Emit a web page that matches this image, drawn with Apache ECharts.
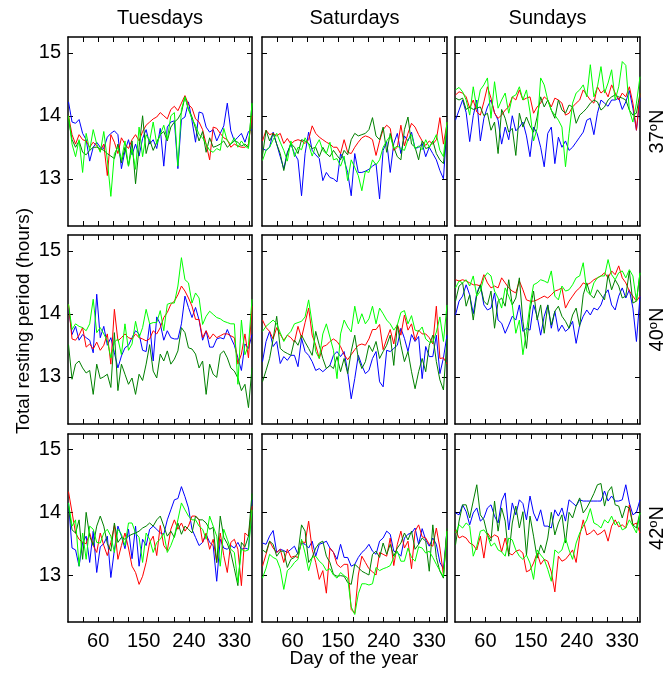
<!DOCTYPE html>
<html>
<head>
<meta charset="utf-8">
<script src="https://cdn.jsdelivr.net/npm/echarts@6/dist/echarts.min.js"></script>
<style>
html,body{margin:0;padding:0;background:#fff;}
#chart{width:670px;height:673px;}
</style>
</head>
<body>
<div id="chart"></div>
<script>
// ---------- data ----------
const days = [1,8,15,22,29,36,43,50,57,64,71,78,85,92,99,106,113,120,127,134,141,148,155,162,169,176,183,190,197,204,211,218,225,232,239,246,253,260,267,274,281,288,295,302,309,316,323,330,337,344,351,358,365];
const columnTitles = ['Tuesdays','Saturdays','Sundays'];
const latitudes = ['37','40','42'];
const xTickValues = [30,60,90,120,150,180,210,240,270,300,330,360];
const xLabelValues = [60,150,240,330];
const yTickValues = [13,14,15];
const seriesNames = ['blue','red','darkgreen','lightgreen'];

// 37N Tuesdays
const tue37Blue = [14.22,13.9,13.88,13.94,13.72,13.62,13.28,13.5,13.58,13.5,13.48,13.66,13.72,13.76,13.7,13.16,13.44,13.62,13.38,13.55,13.36,13.64,13.78,13.55,13.62,13.48,13.8,13.2,13.82,13.9,13.92,13.16,13.94,13.98,14.22,13.92,13.58,14.06,14.04,13.82,13.74,13.78,13.6,13.72,13.84,14.2,13.76,13.6,13.66,13.72,13.58,13.75,13.78];
const tue37Red = [14.0,13.7,13.55,13.7,13.62,13.6,13.5,13.58,13.52,13.45,13.55,13.05,13.7,13.58,13.4,13.65,13.55,13.48,13.62,13.7,13.6,13.75,13.85,13.9,13.95,13.98,14.05,14.0,13.95,14.1,14.15,14.08,14.2,14.32,14.18,14.12,13.95,13.9,13.78,13.55,13.3,13.82,13.8,13.72,13.65,13.62,13.5,13.55,13.52,13.5,13.5,13.55,14.0];
const tue37Light = [14.0,13.55,13.35,13.62,13.1,13.72,13.45,13.78,13.55,13.42,13.75,13.3,12.72,13.4,13.5,13.3,13.6,13.2,13.48,13.15,13.82,13.35,13.7,13.6,13.9,13.55,13.7,13.85,13.62,14.0,14.05,13.2,14.1,14.3,14.1,13.95,13.85,13.7,13.65,13.55,13.45,13.42,13.48,13.45,13.8,13.6,13.55,13.65,13.5,13.6,13.52,13.48,14.2];
const tue37Dark = [13.95,13.62,13.5,13.6,13.42,13.38,13.45,13.5,13.5,13.48,13.45,13.4,13.36,13.32,13.55,13.25,13.5,13.2,13.6,12.92,13.5,14.0,13.4,13.62,13.45,13.58,13.7,13.75,13.6,13.82,13.9,13.95,14.05,14.3,14.1,13.98,13.8,13.6,13.75,13.42,13.65,13.5,13.52,13.55,13.6,13.5,13.55,13.6,13.58,13.52,13.55,13.5,14.2];
// 37N Saturdays
const sat37Blue = [13.48,13.45,13.5,13.74,13.55,13.35,13.16,13.42,13.55,13.4,13.3,12.73,13.4,13.74,13.45,13.38,13.32,12.97,13.1,13.02,13.0,12.95,13.4,13.3,13.1,12.73,13.4,13.1,13.1,13.12,13.15,13.2,13.24,12.68,13.45,13.59,13.1,13.56,13.72,13.4,13.68,13.6,13.74,13.48,13.5,13.56,13.35,13.5,13.4,13.3,13.13,13.0,13.85];
const sat37Red = [13.6,13.77,13.7,13.72,13.68,13.72,13.56,13.64,13.55,13.6,13.62,13.6,13.56,13.62,13.84,13.72,13.66,13.62,13.58,13.55,13.5,13.5,13.4,13.62,13.42,13.4,13.5,13.58,13.65,13.68,13.66,13.62,13.37,13.6,13.78,13.85,13.8,13.45,13.5,13.85,13.52,13.72,13.88,13.82,13.7,13.6,13.53,13.6,13.55,13.62,13.97,13.55,13.88];
const sat37Light = [13.29,13.45,13.5,13.62,13.72,13.58,13.45,13.28,13.6,13.35,13.5,13.46,13.65,13.55,13.36,13.52,13.62,13.45,13.4,13.58,13.3,13.32,13.2,13.36,12.97,13.3,13.18,13.05,12.81,13.12,13.1,13.3,13.22,13.3,13.5,13.6,13.68,13.48,13.52,13.48,13.45,13.62,13.7,13.48,13.52,13.46,13.62,13.5,13.58,13.7,13.45,13.35,13.9];
const sat37Dark = [13.37,13.77,13.6,13.72,13.55,13.4,13.13,13.4,13.56,13.5,13.4,13.62,13.6,13.56,13.48,13.5,13.35,13.5,13.4,13.35,13.45,13.37,13.3,13.45,13.38,13.62,13.72,13.68,13.7,13.72,13.78,13.97,13.68,13.62,13.82,13.42,13.72,13.5,13.35,13.3,13.78,13.98,13.55,13.5,13.3,13.6,13.48,13.5,13.6,13.4,13.3,13.24,13.82];
// 37N Sundays
const sun37Blue = [13.93,14.09,14.25,14.05,13.59,14.0,14.25,13.6,13.96,14.14,14.25,14.05,13.93,13.55,13.82,13.62,14.0,13.76,13.82,13.9,13.68,13.35,13.82,13.72,13.5,13.19,13.72,13.82,13.24,13.66,13.5,13.6,13.45,13.5,13.58,13.66,13.74,13.93,13.96,13.7,14.04,14.25,14.2,14.15,14.25,14.25,14.28,14.1,14.22,14.4,14.12,13.77,14.28];
const sun37Red = [14.33,14.38,14.36,14.3,14.12,14.25,14.06,14.01,14.22,14.46,14.28,14.04,13.96,14.01,14.09,14.14,14.3,14.25,14.41,14.25,14.28,14.3,14.04,14.14,14.2,14.3,14.25,14.14,14.28,14.25,14.2,14.01,14.04,14.14,14.2,14.25,14.41,14.33,14.25,14.2,14.46,14.36,14.41,14.3,14.49,14.36,14.25,14.36,14.3,14.46,14.2,13.77,14.36];
const sun37Light = [14.41,14.45,14.38,14.25,14.01,14.46,14.12,14.41,14.49,14.6,13.96,14.54,14.12,14.25,14.36,14.04,14.3,14.33,14.46,14.25,14.41,14.06,13.6,13.8,14.6,14.49,14.25,14.09,14.01,13.93,13.82,13.19,13.72,14.2,14.36,14.41,14.49,14.3,14.81,14.3,14.46,14.78,14.36,14.52,14.73,14.25,14.46,14.86,14.8,14.09,13.9,14.2,14.62];
const sun37Dark = [14.28,14.25,14.28,14.1,14.14,14.1,14.12,14.14,14.0,14.04,13.77,13.9,13.4,14.1,13.96,13.74,13.8,13.37,14.04,13.82,13.98,13.84,13.74,13.98,14.3,14.14,14.25,14.09,13.96,14.25,14.09,14.04,14.17,14.14,13.88,14.01,14.06,14.12,14.2,14.25,14.22,14.09,14.14,14.25,14.3,14.33,14.3,14.28,14.25,14.09,14.01,14.04,14.36];
// 40N Tuesdays
const tue40Blue = [14.1,13.67,13.8,13.58,13.67,13.62,13.58,13.38,14.31,13.62,13.8,13.5,13.62,13.38,13.14,13.33,13.46,13.5,13.62,13.73,13.68,13.42,13.4,13.84,13.25,13.95,13.84,13.58,13.73,13.62,13.6,13.6,13.84,14.28,14.1,13.94,14.1,13.9,13.58,13.73,13.47,13.47,13.6,13.62,13.6,13.75,13.62,13.5,13.3,13.1,13.52,13.45,13.67];
const tue40Red = [14.15,13.6,13.58,13.66,13.78,13.47,13.52,13.44,13.55,13.42,13.5,13.68,13.2,14.07,13.57,13.62,13.68,13.62,13.6,13.68,13.62,13.6,13.57,13.6,13.73,13.68,13.78,13.94,14.02,14.15,14.2,14.3,14.44,14.36,14.25,14.12,13.91,13.91,13.62,13.73,13.6,13.68,13.62,13.65,13.68,13.68,13.65,13.62,13.2,13.36,13.68,13.3,14.12];
const tue40Light = [14.15,13.75,13.84,13.8,13.78,13.73,13.84,14.23,13.7,13.78,13.68,13.57,13.3,13.55,13.6,13.35,13.84,13.42,13.52,13.88,13.62,13.78,14.07,13.84,13.86,13.86,14.05,13.73,14.15,14.17,14.17,14.44,14.89,14.54,14.49,14.17,14.33,14.25,13.83,13.96,14.04,13.99,13.94,13.92,13.88,13.86,13.84,13.84,12.88,13.9,13.35,13.5,14.23];
const tue40Dark = [13.51,12.96,13.2,13.25,13.14,13.06,13.1,12.72,13.2,12.97,13.0,13.04,12.83,13.7,12.78,13.2,13.04,12.88,12.98,12.72,13.04,12.94,13.2,13.51,13.09,12.98,13.36,13.25,13.41,13.2,13.28,13.41,13.78,13.7,13.46,13.44,13.36,13.14,13.25,12.72,13.2,13.04,12.99,13.36,13.41,13.3,13.14,13.09,12.98,12.78,12.88,12.51,13.14];
// 40N Saturdays
const sat40Blue = [13.24,13.56,13.72,13.48,13.56,13.21,13.32,13.26,13.34,13.34,13.16,13.61,13.4,13.34,13.24,13.1,13.13,13.08,13.13,13.18,13.34,13.4,13.32,13.4,13.08,12.65,12.97,13.34,13.18,13.05,13.1,13.29,13.4,12.92,12.84,13.42,13.4,13.45,13.5,13.77,13.61,13.4,13.67,13.56,13.64,12.97,13.48,13.32,13.32,13.66,13.05,13.3,13.66];
const sat40Red = [13.9,13.78,13.72,13.6,13.78,13.67,13.58,13.66,13.62,13.55,13.8,13.62,13.86,14.09,13.66,13.5,13.29,13.48,13.5,13.56,13.6,13.56,13.48,13.35,13.27,13.35,13.43,13.5,13.52,13.5,13.6,13.75,13.75,13.83,13.43,13.6,13.75,13.52,13.83,13.66,13.98,13.74,13.84,13.58,13.74,13.68,13.68,13.62,13.52,14.12,13.29,13.3,13.2];
const sat40Light = [13.72,13.8,13.85,13.9,13.84,13.7,13.56,13.66,13.72,13.84,13.86,13.88,13.95,14.22,13.84,13.4,13.29,13.68,13.84,13.63,13.42,12.97,13.68,13.9,13.79,13.71,14.12,13.84,14.0,13.84,13.92,14.12,13.84,14.09,14.0,13.9,13.84,13.74,13.82,14.02,14.05,13.84,13.97,13.74,13.72,13.79,13.6,13.55,13.55,13.71,13.95,13.56,14.14];
const sat40Dark = [12.92,13.1,13.29,13.6,13.96,13.45,13.4,13.37,13.34,13.58,13.5,13.66,13.55,13.45,13.34,13.72,13.5,13.29,13.13,13.18,13.13,13.32,13.08,13.29,13.05,13.4,13.66,13.29,13.13,13.24,13.5,13.4,13.56,13.29,13.4,13.5,13.66,13.18,13.82,13.5,13.24,13.4,13.08,12.81,13.08,13.29,13.08,13.5,13.66,13.24,12.95,12.79,13.6];
// 40N Sundays
const sun40Blue = [13.98,14.2,14.28,14.46,14.3,14.0,14.33,14.46,14.14,14.06,14.09,14.33,13.9,13.85,13.69,13.82,13.96,13.9,14.14,13.72,13.77,13.74,14.14,13.96,13.66,13.96,14.14,13.77,14.04,13.72,13.82,13.72,13.77,13.88,13.53,13.82,13.96,14.06,13.98,14.09,14.06,14.14,14.3,14.38,14.14,14.06,14.28,14.41,14.25,14.38,14.09,13.56,14.28];
const sun40Red = [14.54,14.52,14.54,14.52,14.49,14.46,14.46,14.44,14.62,14.49,14.41,14.44,14.41,14.57,14.49,14.41,14.36,14.33,14.52,14.38,14.22,14.2,14.2,14.22,14.25,14.28,14.25,14.3,14.36,14.38,14.41,14.09,14.2,14.28,14.36,14.41,14.49,14.46,14.49,14.54,14.57,14.6,14.65,14.57,14.68,14.62,14.76,14.57,14.49,14.36,14.28,14.2,14.28];
const sun40Light = [14.41,14.52,14.49,14.54,14.44,14.6,14.28,14.36,14.57,14.65,14.6,14.36,14.25,14.09,14.41,14.28,14.14,13.69,13.9,13.35,13.72,14.14,14.46,14.49,14.54,14.52,14.49,14.68,14.28,14.22,14.44,14.36,14.38,14.46,14.57,14.6,14.81,14.36,14.3,14.49,14.57,14.6,14.6,14.86,14.62,14.54,14.65,14.68,14.57,14.7,14.6,14.2,14.65];
const sun40Dark = [14.2,14.44,14.49,14.12,14.3,13.9,14.3,14.46,14.2,14.14,14.36,13.77,14.2,14.25,14.12,14.54,14.14,14.25,14.57,13.88,13.45,14.06,14.36,13.9,14.14,13.69,14.14,13.82,14.04,14.12,13.96,13.88,13.77,13.98,14.09,13.8,14.3,14.49,14.3,14.25,14.38,14.3,14.22,14.62,14.38,14.54,14.44,14.25,14.28,14.68,14.17,14.2,14.65];
// 42N Tuesdays
const tue42Blue = [14.15,13.43,13.4,13.14,13.52,13.62,13.2,13.7,13.04,13.45,13.5,13.62,12.96,13.4,13.78,13.62,13.42,13.73,13.26,13.78,13.14,13.57,13.47,13.73,13.78,13.73,13.67,13.65,13.88,14.04,14.2,14.22,14.41,14.25,14.07,13.73,13.6,13.47,13.52,13.65,13.52,13.47,12.9,13.57,13.43,13.41,13.47,13.43,13.52,13.41,13.43,13.41,14.2];
const tue42Red = [14.33,14.0,13.67,13.57,13.52,13.5,13.67,13.47,13.36,13.67,13.47,13.31,13.52,13.79,13.25,13.47,13.67,13.43,13.14,13.04,12.85,12.98,13.2,13.52,13.62,13.31,13.79,13.47,13.39,13.73,13.88,13.73,13.83,13.7,13.78,13.94,13.94,13.88,13.52,13.67,13.41,13.57,13.2,13.67,13.31,13.04,13.52,13.57,13.41,12.83,13.67,13.62,14.1];
const tue42Light = [14.15,13.78,13.88,13.14,13.67,13.25,13.78,13.73,13.52,13.51,13.67,13.73,13.62,13.36,13.73,13.65,13.47,13.83,13.83,13.67,13.6,13.2,13.67,13.57,13.36,13.52,13.57,13.67,13.36,13.47,13.62,13.88,14.15,14.04,13.94,13.88,13.88,13.78,13.73,13.57,13.94,13.78,13.62,13.14,13.73,13.57,13.41,13.36,12.88,13.41,13.38,13.4,14.04];
const tue42Dark = [14.1,13.72,13.67,13.88,13.25,14.0,13.62,13.47,13.78,13.94,13.78,13.5,13.38,13.83,13.52,13.6,13.57,13.62,13.65,13.67,13.7,13.75,13.78,13.83,13.78,13.88,13.94,13.78,13.62,13.7,13.6,13.83,13.65,13.78,13.73,13.67,13.94,13.88,13.88,13.83,13.73,13.76,13.2,13.94,13.6,13.5,13.35,13.1,12.83,13.52,13.45,13.62,14.3];
// 42N Saturdays
const sat42Blue = [13.51,13.49,13.62,13.71,13.36,13.41,13.39,13.36,13.41,13.46,13.33,13.51,13.49,13.43,13.54,13.3,13.49,13.51,13.54,13.43,13.36,13.25,13.49,13.28,13.28,13.14,13.17,13.28,13.36,13.41,13.49,13.38,13.33,13.54,13.59,13.7,13.65,13.38,13.36,13.3,13.59,13.65,13.67,13.75,13.49,13.74,13.56,13.46,13.59,13.49,13.2,13.1,13.72];
const sat42Red = [13.14,13.33,13.54,13.43,13.36,13.41,13.2,13.41,13.28,13.3,13.28,13.54,13.51,13.86,13.41,13.2,12.93,13.07,12.71,13.43,13.36,13.17,13.12,13.17,13.17,12.45,12.39,13.0,13.3,13.2,13.1,13.05,13.0,13.36,13.33,13.3,13.59,13.15,13.49,13.7,13.43,13.54,13.1,13.7,13.8,13.61,13.59,13.49,13.46,13.75,13.43,13.0,13.72];
const sat42Light = [12.95,13.11,13.33,13.28,13.25,13.1,12.77,13.07,13.12,13.2,13.25,13.57,13.35,13.07,13.28,13.3,13.22,13.17,13.07,13.1,13.0,12.95,13.04,12.99,12.95,12.49,12.37,12.7,12.86,12.86,12.84,12.86,13.12,13.07,13.1,13.12,13.15,13.28,13.38,13.22,13.22,13.43,13.28,13.22,13.45,13.43,13.35,13.38,13.28,13.17,13.07,12.97,13.7];
const sat42Dark = [13.4,13.36,13.54,13.49,13.3,13.38,13.38,13.12,13.25,13.28,13.35,13.8,13.7,13.2,13.28,13.43,13.51,13.54,13.3,13.2,13.01,12.98,12.99,12.98,12.88,12.85,13.17,13.12,13.06,13.03,13.0,13.33,13.38,13.28,13.51,13.33,13.49,13.3,13.43,13.51,13.67,13.56,13.7,13.41,13.49,13.59,13.54,13.06,13.8,13.28,13.06,12.95,13.74];
// 42N Sundays
const sun42Blue = [13.99,13.96,14.12,14.01,13.8,13.99,14.07,13.86,13.91,14.07,14.12,13.94,13.83,14.18,14.31,13.72,14.15,13.96,14.2,14.14,13.88,14.26,13.99,13.86,14.04,13.78,13.78,13.75,14.04,13.94,14.07,13.86,14.2,14.15,14.1,14.2,14.18,14.18,14.18,14.18,14.18,14.18,14.34,14.18,14.26,14.18,14.18,14.2,14.44,14.15,13.96,14.0,14.2];
const sun42Red = [13.72,13.59,13.62,13.59,13.51,13.48,13.4,13.62,13.27,13.67,13.59,13.64,13.61,13.37,13.59,13.35,13.32,13.38,13.4,13.35,13.05,13.08,13.19,13.35,13.17,13.25,13.22,13.05,12.73,13.3,13.22,13.25,13.32,13.4,13.2,13.62,13.88,13.64,13.67,13.72,13.64,13.67,13.72,13.54,13.78,13.88,13.77,13.8,13.75,14.12,13.8,13.83,13.67];
const sun42Light = [13.67,13.8,13.75,13.83,13.78,13.3,13.46,13.7,13.72,13.64,13.46,13.51,13.4,13.37,13.3,13.59,13.56,13.4,13.3,13.25,13.32,13.19,12.93,13.4,13.32,13.25,13.09,12.9,13.4,13.35,13.4,13.59,13.4,13.25,13.51,13.67,13.78,13.88,14.06,13.83,13.8,13.75,13.88,13.83,13.94,13.8,13.85,13.72,13.75,13.88,13.78,13.67,13.99];
const sun42Dark = [13.48,13.86,14.12,14.12,13.91,14.18,14.44,13.96,13.88,13.64,13.54,14.18,13.7,14.07,13.86,13.3,13.83,14.1,13.75,14.01,13.32,13.94,13.62,13.27,13.48,13.35,13.59,14.0,13.64,13.83,13.96,13.51,14.0,13.91,14.1,14.23,13.99,14.07,14.18,14.3,14.44,14.46,14.1,14.33,14.41,14.12,14.1,13.91,14.1,14.07,13.8,13.75,14.0];

// panels: rows = latitude, columns = day type; series order: blue, red, dark green, light green
const panelData = [
  [[tue37Blue,tue37Red,tue37Dark,tue37Light],[sat37Blue,sat37Red,sat37Dark,sat37Light],[sun37Blue,sun37Red,sun37Dark,sun37Light]],
  [[tue40Blue,tue40Red,tue40Dark,tue40Light],[sat40Blue,sat40Red,sat40Dark,sat40Light],[sun40Blue,sun40Red,sun40Dark,sun40Light]],
  [[tue42Blue,tue42Red,tue42Dark,tue42Light],[sat42Blue,sat42Red,sat42Dark,sat42Light],[sun42Blue,sun42Red,sun42Dark,sun42Light]]
];

// ---------- layout & style ----------
const colors = ['#0000ff','#ff0000','#008000','#00ff00'];
const colLeft = [68, 262, 455];
const colWidth = [184, 185, 185];
const rowTop = [37, 235, 434];
const rowHeight = [189, 189, 188];
const FONT = 'Liberation Sans, Arial, Helvetica, sans-serif';

const grids = [], xAxes = [], yAxes = [], series = [];
for (let r = 0; r < 3; r++) {
  for (let c = 0; c < 3; c++) {
    const k = r * 3 + c;
    grids.push({left: colLeft[c], top: rowTop[r], width: colWidth[c], height: rowHeight[r], containLabel: false});
    ['bottom','top'].forEach(function (pos) {
      xAxes.push({
        gridIndex: k, type: 'value', min: 0, max: 365, position: pos,
        axisLine: {show: true, onZero: false, lineStyle: {color: '#000', width: 1.5}},
        axisTick: {show: true, inside: true, length: 5, customValues: xTickValues, lineStyle: {color: '#000', width: 1}},
        axisLabel: {show: pos === 'bottom' && r === 2, customValues: xLabelValues, fontSize: 20, color: '#000', margin: 9, fontFamily: FONT},
        splitLine: {show: false}
      });
    });
    ['left','right'].forEach(function (pos) {
      yAxes.push({
        gridIndex: k, type: 'value', min: 12.25, max: 15.25, position: pos,
        axisLine: {show: true, onZero: false, lineStyle: {color: '#000', width: 1.5}},
        axisTick: {show: true, inside: true, length: 5, customValues: yTickValues, lineStyle: {color: '#000', width: 1}},
        axisLabel: {show: pos === 'left' && c === 0, customValues: yTickValues, fontSize: 20, color: '#000', margin: 7, fontFamily: FONT},
        splitLine: {show: false}
      });
    });
    panelData[r][c].forEach(function (vals, s) {
      series.push({
        type: 'line', name: seriesNames[s], xAxisIndex: 2 * k, yAxisIndex: 2 * k,
        data: days.map(function (d, i) { return [d, vals[i]]; }),
        showSymbol: false, symbol: 'none', lineStyle: {color: colors[s], width: 1}, itemStyle: {color: colors[s]},
        silent: true, clip: true
      });
    });
  }
}

const graphics = [];
for (let c = 0; c < 3; c++) {
  graphics.push({type: 'text', x: colLeft[c] + colWidth[c] / 2, y: 18,
    style: {text: columnTitles[c], fontSize: 20, fontFamily: FONT, fill: '#000', align: 'center', verticalAlign: 'middle', textAlign: 'center', textVerticalAlign: 'middle'}});
}
for (let r = 0; r < 3; r++) {
  graphics.push({type: 'text', x: 657, y: rowTop[r] + rowHeight[r] / 2, rotation: Math.PI / 2,
    style: {text: '{a|' + latitudes[r] + '}{s|o}{a|N}', fill: '#000', align: 'center', verticalAlign: 'middle', textAlign: 'center', textVerticalAlign: 'middle',
      rich: {a: {fontSize: 20, fontFamily: FONT, fill: '#000'}, s: {fontSize: 13, fontFamily: FONT, fill: '#000', verticalAlign: 'top'}}}});
}
graphics.push({type: 'text', x: 24, y: 321, rotation: Math.PI / 2,
  style: {text: 'Total resting period (hours)', fontSize: 19, fontFamily: FONT, fill: '#000', align: 'center', verticalAlign: 'middle', textAlign: 'center', textVerticalAlign: 'middle'}});
graphics.push({type: 'text', x: 354, y: 659,
  style: {text: 'Day of the year', fontSize: 19, fontFamily: FONT, fill: '#000', align: 'center', verticalAlign: 'middle', textAlign: 'center', textVerticalAlign: 'middle'}});

const chart = echarts.init(document.getElementById('chart'), null, {renderer: 'canvas'});
chart.setOption({
  backgroundColor: '#fff',
  animation: false,
  textStyle: {fontFamily: FONT},
  grid: grids,
  xAxis: xAxes,
  yAxis: yAxes,
  series: series,
  graphic: graphics
});
</script>
</body>
</html>
